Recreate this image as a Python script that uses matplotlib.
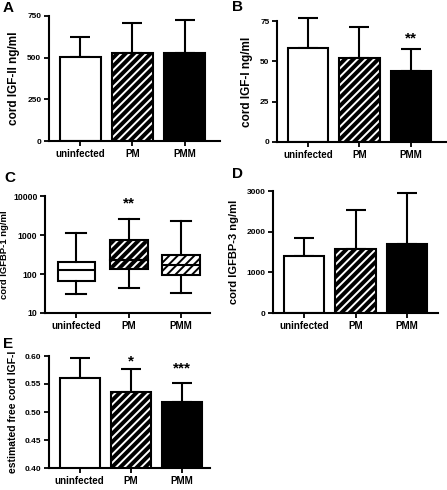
import matplotlib
matplotlib.use("Agg")
import matplotlib.pyplot as plt

plt.rcParams['font.family'] = ['Liberation Sans', 'DejaVu Sans']
plt.rcParams['hatch.linewidth'] = 1.4

groups = ['uninfected', 'PM', 'PMM']

# panel A: cord IGF-II (mean, upper error)
igf2_mean = [505, 525, 525]
igf2_err = [120, 180, 200]
# panel B: cord IGF-I
igf1_mean = [58, 52, 44]
igf1_err = [19, 19.5, 13.5]
# panel C: cord IGFBP-1 box plot (whislo, q1, med, q3, whishi)
bp1_low = [30, 45, 32]
bp1_q1 = [68, 135, 97]
bp1_med = [130, 230, 175]
bp1_q3 = [200, 750, 300]
bp1_high = [1100, 2600, 2300]
# panel D: cord IGFBP-3
bp3_mean = [1400, 1580, 1700]
bp3_err = [450, 950, 1250]
# panel E: estimated free cord IGF-I
free_mean = [0.560, 0.535, 0.518]
free_err = [0.037, 0.041, 0.034]

W, H = 447, 490
fig = plt.figure(figsize=(W / 100, H / 100), dpi=100)


def make_ax(left, right, top, bottom):
    return fig.add_axes([left / W, 1 - bottom / H, (right - left) / W, (bottom - top) / H])


def letter(x, y, s):
    fig.text(x / W, 1 - y / H, s, fontsize=11, fontweight='bold', ha='left', va='center')


def style(ax, ylo, yhi, ticks, fmt, ylabel, lsize=8.5, tsize=6, pad=5):
    for s in ['top', 'right']:
        ax.spines[s].set_visible(False)
    for s in ['left', 'bottom']:
        ax.spines[s].set_linewidth(1.5)
    ax.set_ylim(ylo, yhi)
    ax.set_yticks(ticks)
    ax.set_yticklabels([fmt(t) for t in ticks], fontsize=tsize, fontweight='bold')
    ax.set_xticks(range(3))
    ax.set_xticklabels(groups, fontsize=7, fontweight='bold')
    ax.tick_params(axis='both', direction='out', length=3.5, width=1.3, pad=2)
    ax.set_ylabel(ylabel, fontsize=lsize, fontweight='bold', labelpad=pad)
    ax.patch.set_visible(False)


def bars(ax, means, errs):
    x = range(3)
    ax.bar(0, means[0], 0.78, color='white', edgecolor='black', lw=1.5, zorder=2)
    ax.bar(1, means[1], 0.78, color='black', edgecolor='white', lw=0, hatch='////', zorder=2)
    ax.bar(1, means[1], 0.78, fill=False, edgecolor='black', lw=1.5, zorder=3)
    ax.bar(2, means[2], 0.78, color='black', edgecolor='black', lw=1.5, zorder=2)
    eb = ax.errorbar(x, means, yerr=[[0, 0, 0], errs], fmt='none', ecolor='black',
                     elinewidth=1.5, capsize=7, capthick=1.5, zorder=1)
    for art in eb.lines[1] + eb.lines[2]:
        art.set_clip_on(False)
    ax.set_xlim(-0.6, 2.68)


# A
axA = make_ax(49, 220, 16, 141)
bars(axA, igf2_mean, igf2_err)
style(axA, 0, 750, [0, 250, 500, 750], lambda t: '%d' % t, 'cord IGF-II ng/ml')
letter(3, 8, 'A')

# B
axB = make_ax(277, 446, 21, 142)
bars(axB, igf1_mean, igf1_err)
style(axB, 0, 75, [0, 25, 50, 75], lambda t: '%d' % t, 'cord IGF-I ng/ml')
axB.text(2, 64, '**', ha='center', va='center', fontsize=11, fontweight='bold')
letter(232, 7, 'B')

# C
axC = make_ax(45, 210, 196, 313)
axC.set_yscale('log')
stats = []
for i in range(3):
    stats.append(dict(whislo=bp1_low[i], q1=bp1_q1[i], med=bp1_med[i],
                      q3=bp1_q3[i], whishi=bp1_high[i], fliers=[]))
bp = axC.bxp(stats, positions=range(3), widths=0.72, patch_artist=True,
             showfliers=False,
             boxprops=dict(lw=1.5, edgecolor='black'),
             whiskerprops=dict(lw=1.5), capprops=dict(lw=1.5),
             medianprops=dict(color='black', lw=1.5))
for c in bp['caps']:
    xd = c.get_xdata()
    m = sum(xd) / 2
    c.set_xdata([m - 0.19, m + 0.19])
bp['boxes'][0].set_facecolor('white')
bp['boxes'][1].set_facecolor('black')
bp['boxes'][1].set_hatch('////')
bp['boxes'][1].set_edgecolor('white')
bp['boxes'][2].set_facecolor('white')
bp['boxes'][2].set_hatch('////')
axC.bar(1, bp1_q3[1] - bp1_q1[1], 0.72, bottom=bp1_q1[1], fill=False,
        edgecolor='black', lw=1.5, zorder=3)
axC.plot([0.64, 1.36], [bp1_med[1]] * 2, color='black', lw=1.5, zorder=3)
axC.set_xlim(-0.6, 2.55)
style(axC, 10, 10000, [10, 100, 1000, 10000], lambda t: '%d' % t, 'cord IGFBP-1 ng/ml',
      lsize=6.8, tsize=6.2, pad=3)
axC.set_yticks([], minor=True)
axC.text(1, 6500, '**', ha='center', va='center', fontsize=11, fontweight='bold')
letter(4, 178, 'C')

# D
axD = make_ax(273, 438, 191, 313)
bars(axD, bp3_mean, bp3_err)
style(axD, 0, 3000, [0, 1000, 2000, 3000], lambda t: '%d' % t, 'cord IGFBP-3 ng/ml',
      lsize=8.0)
axD.set_xlim(-0.6, 2.6)
letter(232, 174, 'D')

# E
axE = make_ax(49, 210, 356, 468)
bars(axE, free_mean, free_err)
style(axE, 0.40, 0.60, [0.40, 0.45, 0.50, 0.55, 0.60], lambda t: '%.2f' % t,
      'estimated free cord IGF-I', lsize=7.5)
axE.set_xlim(-0.6, 2.55)
axE.text(1, 0.591, '*', ha='center', va='center', fontsize=11, fontweight='bold')
axE.text(2, 0.578, '***', ha='center', va='center', fontsize=11, fontweight='bold')
letter(3, 344, 'E')

fig.savefig('out.png', dpi=100)
